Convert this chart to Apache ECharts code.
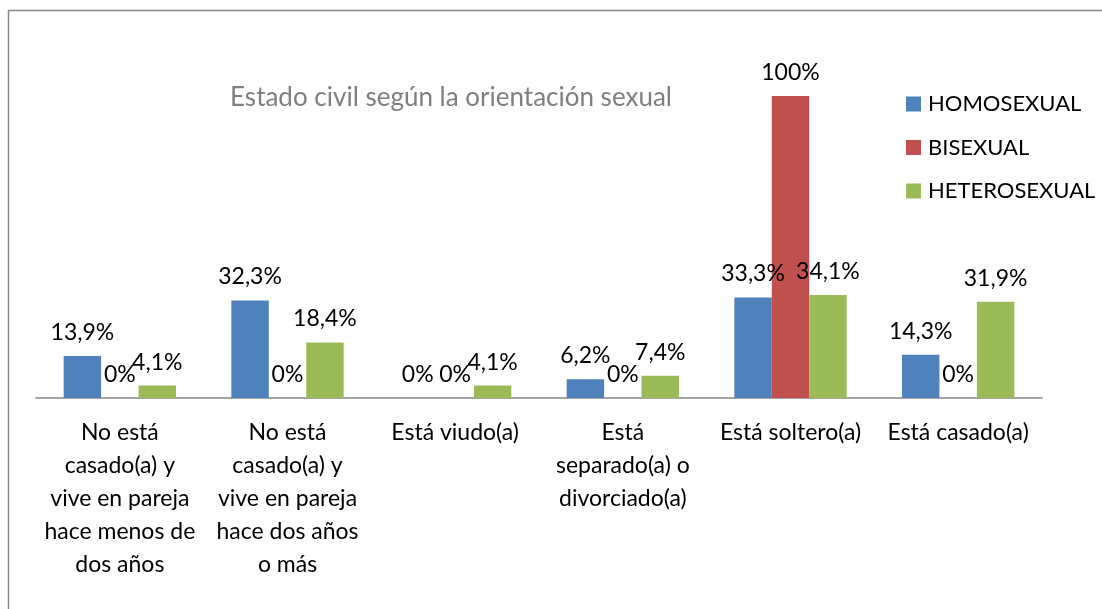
<!DOCTYPE html>
<html>
<head>
<meta charset="utf-8">
<script src="https://cdn.jsdelivr.net/npm/echarts@6/dist/echarts.min.js"></script>
<style>
  html, body { margin: 0; padding: 0; background: #fff; }
  #chart { width: 1102px; height: 609px; }
</style>
</head>
<body>
<div id="chart"></div>
<script>
// categorias (con los saltos de línea del original) y valores (%)
const categories = [
  'No está\ncasado(a) y\nvive en pareja\nhace menos de\ndos años',
  'No está\ncasado(a) y\nvive en pareja\nhace dos años\no más',
  'Está viudo(a)',
  'Está\nseparado(a) o\ndivorciado(a)',
  'Está soltero(a)',
  'Está casado(a)'
];
const homosexual = [13.9, 32.3, 0, 6.2, 33.3, 14.3];
const bisexual = [0, 0, 0, 0, 100, 0];
const heterosexual = [4.1, 18.4, 4.1, 7.4, 34.1, 31.9];

const FONT = 'Lato';

function pct(v) {
    return String(v).replace('.', ',') + '%';
}

function bar(name, data, color) {
    return {
        name: name,
        type: 'bar',
        data: data,
        barGap: '0%',
        barCategoryGap: '33%',
        itemStyle: { color: color },
        label: {
            show: true,
            position: 'top',
            distance: 12,
            color: '#000',
            fontFamily: FONT,
            fontSize: 23,
            formatter: p => pct(p.value)
        }
    };
}

const chart = echarts.init(document.getElementById('chart'));
chart.setOption({
    animation: false,
    title: {
        text: 'Estado civil según la orientación sexual',
        left: 446,
        top: 80,
        textAlign: 'center',
        textStyle: { color: '#7f7f7f', fontFamily: FONT, fontSize: 26, fontWeight: 'normal' }
    },
    legend: {
        orient: 'vertical',
        left: 901,
        top: 88,
        itemWidth: 15,
        itemHeight: 15,
        itemGap: 21.5,
        icon: 'rect',
        textStyle: { color: '#000', fontFamily: FONT, fontSize: 22, padding: [0, 0, 0, 2] }
    },
    grid: { left: 36, right: 60, top: 96, bottom: 211 },
    xAxis: {
        type: 'category',
        data: categories,
        axisLine: { lineStyle: { color: '#868686', width: 1.5 } },
        axisTick: { length: 9, lineStyle: { color: '#868686', width: 1.5 } },
        axisLabel: {
            interval: 0,
            color: '#000',
            fontFamily: FONT,
            fontSize: 23,
            lineHeight: 33,
            margin: 18
        }
    },
    yAxis: {
        type: 'value',
        min: 0,
        max: 100,
        show: false
    },
    graphic: [{
        type: 'rect',
        shape: { x: 8.5, y: 10.5, width: 1200, height: 700 },
        style: { fill: 'none', stroke: '#888', lineWidth: 1.5 },
        silent: true
    }],
    series: [
        bar('HOMOSEXUAL', homosexual, '#4F81BD'),
        bar('BISEXUAL', bisexual, '#C0504D'),
        bar('HETEROSEXUAL', heterosexual, '#9BBB59')
    ]
});
</script>
</body>
</html>
